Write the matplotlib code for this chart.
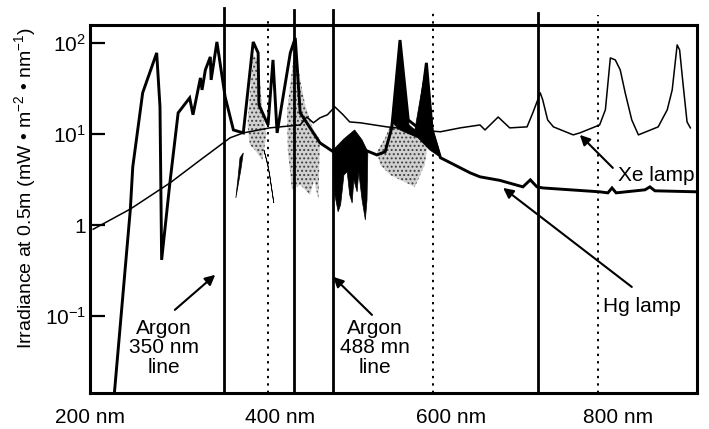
import matplotlib
matplotlib.use("Agg")
import matplotlib.pyplot as plt
import matplotlib.transforms as mtransforms
from matplotlib.ticker import NullLocator

plt.rcParams["font.family"] = ["Liberation Sans", "DejaVu Sans"]
plt.rcParams["mathtext.fontset"] = "custom"
plt.rcParams["mathtext.rm"] = "Liberation Sans"
plt.rcParams["mathtext.it"] = "Liberation Sans:italic"
plt.rcParams["mathtext.default"] = "regular"
plt.rcParams["hatch.linewidth"] = 0.9

# Xe lamp (thin line), wavelength in nm, irradiance in mW m-2 nm-1
xe_nm = [188, 233, 281, 318, 354, 370, 402, 427, 439, 447, 455, 463, 472, 481,
         491, 499, 512, 544, 581, 609, 633, 657, 663, 679, 693, 714, 721, 727,
         730, 733, 739, 746, 770, 778, 802, 809, 815, 821, 827, 833, 841, 849,
         873, 884, 890, 896, 899, 903, 908, 912]
xe_irr = [0.9, 1.5, 2.9, 5.2, 9.1, 10.3, 11.7, 12.3, 12.6, 15.4, 13.3, 15.1, 16.3, 19.9,
          16.3, 13.6, 13.3, 12.0, 11.1, 10.6, 11.7, 12.6, 11.1, 15.4, 11.7, 12.0, 17.1, 23.8,
          28.4, 23.8, 14.3, 12.0, 9.8, 10.3, 12.6, 18.5, 68.7, 65.3, 50.7, 28.4, 14.3, 9.8,
          12.0, 18.5, 30.6, 95.5, 84.1, 36.6, 13.6, 11.7]

# Hg lamp (thick line)
hg_nm = [213, 233, 236, 248, 265, 269, 271, 281, 291, 305, 309, 318, 320, 324,
         330, 331, 338, 348, 358, 370, 382, 388, 389, 400, 406, 411, 427, 433,
         439, 455, 463, 479, 512, 532, 542, 550, 560, 570, 582, 592, 599, 609,
         645, 657, 681, 709, 718, 726, 733, 802, 812, 817, 822, 857, 863, 869, 920]
hg_irr = [0.012, 1.47, 4.36, 28.4, 78.0, 19.9, 0.414, 2.91, 17.1, 25.0, 16.3, 41.4, 30.6, 50.7,
          70.5, 39.4, 103, 25.6, 11.1, 10.3, 103, 78.0, 20.9, 12.6, 65.3, 10.3, 78.0, 114,
          17.1, 10.3, 8.0, 6.4, 7.0, 5.9, 6.4, 11.7, 108, 14.3, 11.7, 60.6, 11.1, 5.5,
          3.75, 3.39, 3.1, 2.63, 3.14, 2.63, 2.56, 2.32, 2.26, 2.56, 2.26, 2.44, 2.63, 2.38, 2.32]

# dark filled band next to the argon 488 line (outline)
band_nm = [479, 492, 505, 514, 521, 520, 518, 514, 510, 508, 504, 502, 499, 496, 492, 488, 485, 481, 479]
band_irr = [6.7, 8.85, 11.1, 8.63, 6.37, 1.89, 1.14, 1.89, 3.84, 2.32, 3.14, 1.75, 2.15, 3.84, 3.56, 1.67, 1.40, 2.15, 6.37]

# dark filled peaks around 560-600 nm (outline)
peak_nm = [550, 560, 571, 578, 592, 600, 610, 596, 582, 560, 550]
peak_irr = [13.6, 108, 12.6, 11.1, 60.6, 11.1, 5.48, 6.7, 9.08, 11.1, 13.6]

# thin dark spikes
spike1_nm = [370, 367, 361, 364, 366]
spike1_irr = [6.21, 4.04, 1.99, 3.56, 5.48]
spike2_nm = [395, 400, 407, 402, 398]
spike2_irr = [6.7, 4.59, 1.75, 3.56, 5.21]

# stippled (half-tone) areas, outlines
stip1_nm = [423, 429, 433, 439, 445, 455, 463, 461, 456, 451, 439, 429, 424]
stip1_irr = [17.5, 50.7, 103, 39.4, 20.9, 11.1, 8.63, 1.89, 3.14, 2.15, 2.77, 2.44, 6.7]
stip2_nm = [532, 542, 550, 572, 582, 594, 590, 578, 560, 548, 536]
stip2_irr = [6.37, 9.08, 13.6, 11.7, 9.8, 8.63, 4.59, 2.63, 3.14, 3.56, 4.59]
stip3_nm = [375, 382, 388, 393, 398, 393, 384, 378]
stip3_irr = [12.6, 74.2, 65.3, 18.5, 9.8, 5.21, 6.7, 7.61]

# laser lines (solid) and grid lines (dotted)
laser_nm = [347, 431.5, 479, 727]
grid_nm = [400, 600, 800]

ytick_vals = [100, 10, 1, 0.1]
ytick_labels = ["$10^2$", "$10^1$", "1", "$10^{-1}$"]
xtick_vals = [200, 400, 600, 800]
xtick_labels = ["200 nm", "400 nm", "600 nm", "800 nm"]

fig = plt.figure(figsize=(7.09, 4.29), dpi=100)
ax = fig.add_axes([0.127, 0.084, 0.856, 0.858])
ax.set_yscale("log")
ax.set_xlim(184.2, 920)
ax.set_ylim(10 ** -1.845, 10 ** 2.2)

for xs, ys in [(stip1_nm, stip1_irr), (stip2_nm, stip2_irr), (stip3_nm, stip3_irr)]:
    ax.fill(xs, ys, facecolor="0.82", hatch="....", edgecolor="0.25", linewidth=0, zorder=1)

for xs, ys in [(band_nm, band_irr), (peak_nm, peak_irr), (spike1_nm, spike1_irr), (spike2_nm, spike2_irr)]:
    ax.fill(xs, ys, color="black", linewidth=0.5, zorder=2)

ax.plot(xe_nm, xe_irr, color="black", lw=1.1, zorder=3)
ax.plot(hg_nm, hg_irr, color="black", lw=2.1, zorder=3, solid_joinstyle="miter")

laser_tops = [1.046, 1.04, 1.04, 1.033]
for x, top in zip(laser_nm, laser_tops):
    ax.plot([x, x], [0, top], transform=ax.get_xaxis_transform(), color="black",
            lw=2.0, clip_on=False, zorder=4)
grid_tops = [1.014, 1.033, 1.027]
for x, top in zip(grid_nm, grid_tops):
    ax.plot([x, x], [0, top], transform=ax.get_xaxis_transform(), color="black",
            lw=1.4, ls=(0, (1.2, 2.6)), clip_on=False, zorder=4)

arrow = dict(arrowstyle="-|>", color="black", lw=1.5, mutation_scale=15, shrinkA=0, shrinkB=0)
ax.annotate("", xy=(336, 0.284), xytext=(287, 0.117), arrowprops=arrow)
ax.annotate("", xy=(479, 0.27), xytext=(526, 0.103), arrowprops=arrow)
ax.annotate("", xy=(778, 9.8), xytext=(818, 4.25), arrowprops=arrow)
ax.annotate("", xy=(685, 2.56), xytext=(841, 0.209), arrowprops=arrow)

ax.text(274, 0.0447, "Argon\n350 nm\nline", ha="center", va="center", fontsize=15, linespacing=1.05)
ax.text(530, 0.0447, "Argon\n488 mn\nline", ha="center", va="center", fontsize=15, linespacing=1.05)
ax.text(871, 3.47, "Xe lamp", ha="center", va="center", fontsize=15)
ax.text(853, 0.129, "Hg lamp", ha="center", va="center", fontsize=15)

ax.set_yticks(ytick_vals, labels=ytick_labels)
ax.yaxis.set_minor_locator(NullLocator())
ax.set_xticks(xtick_vals, labels=xtick_labels)
ax.tick_params(axis="y", direction="in", length=11, width=1.6, pad=3, labelsize=15)
ax.tick_params(axis="x", length=0, pad=11, labelsize=15)

# the printed labels are not centred on their positions
for lab, dx in zip(ax.get_xticklabels(), [-9.4, 8.6, 13.3, 14.4]):
    lab.set_transform(lab.get_transform() + mtransforms.ScaledTranslation(dx / 72, 0, fig.dpi_scale_trans))

for s in ax.spines.values():
    s.set_linewidth(2.2)

ax.text(-0.107, 0.557, "Irradiance at 0.5m (mW \u2022 m$^{-2}$ \u2022 nm$^{-1}$)",
        transform=ax.transAxes, rotation=90, ha="center", va="center", fontsize=14)

fig.savefig("out.png", dpi=100)
